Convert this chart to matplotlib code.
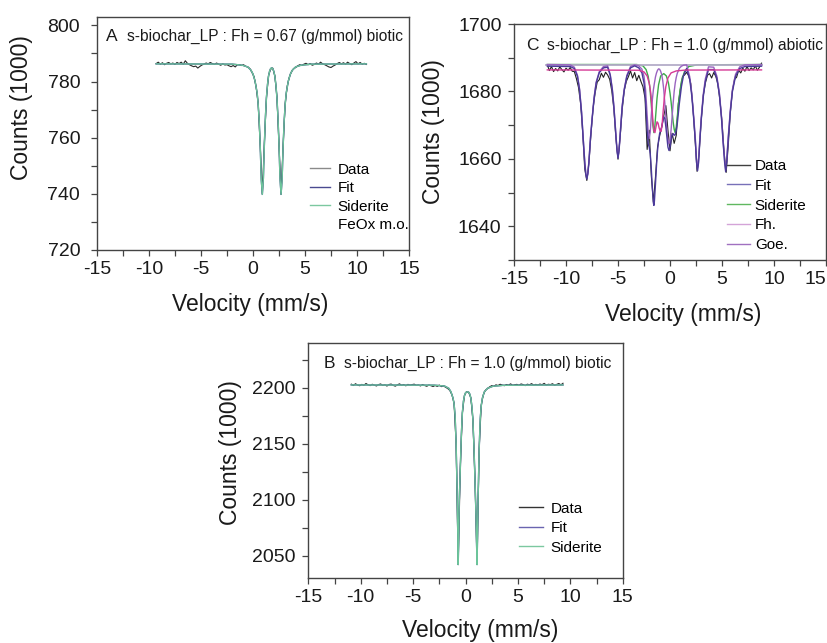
import numpy as np
import matplotlib.pyplot as plt
from matplotlib.lines import Line2D
from matplotlib.ticker import MultipleLocator

plt.rcParams['font.family'] = ['Liberation Sans', 'DejaVu Sans']
plt.rcParams['axes.unicode_minus'] = False

# ---- panel A : Fh = 0.67 biotic ----
# velocity channels, 0.2 mm/s apart
vel_a = np.round(np.arange(-9.3, 10.95, 0.2), 1)
counts_a = [
    786.4, 786.9, 786.2, 786.7, 786.0, 786.5, 786.8, 786.3, 786.6, 786.1,
    786.8, 786.4, 786.9, 786.2, 787.4, 786.5, 786.0, 785.6, 785.3, 785.5,
    784.8, 785.4, 785.9, 786.2, 786.6, 786.3, 786.8, 786.4, 786.1, 786.6,
    786.2, 785.8, 786.3, 785.9, 786.0, 785.6, 785.3, 785.7, 785.2, 786.0,
    786.0, 785.7, 786.0, 785.4, 785.2, 784.6, 783.3, 781.8, 778.2, 772.3,
    757.2, 740.0, 758.3, 774.3, 782.2, 784.4, 784.8, 782.1, 774.8, 757.8,
    739.9, 757.3, 772.2, 778.5, 781.6, 783.5, 784.6, 785.0, 785.6, 786.0,
    785.7, 786.2, 786.5, 786.0, 786.4, 785.8, 786.1, 786.6, 786.2, 786.9,
    786.3, 786.0, 785.6, 785.2, 785.0, 785.5, 785.9, 786.4, 786.8, 786.3,
    786.7, 786.2, 786.9, 786.4, 786.0, 786.6, 787.1, 786.3, 786.8, 786.2,
    786.5, 786.1]
vel_fit_a = [-9.3, -2.0, -1.0, -0.5, -0.2, 0.0, 0.2, 0.4,
             0.5, 0.6, 0.7, 0.8, 0.9, 1.0, 1.1, 1.2, 1.3, 1.4,
             1.5, 1.6, 1.7, 1.8, 1.9, 2.0, 2.1, 2.2, 2.3, 2.4,
             2.5, 2.6, 2.7, 2.8, 2.9, 3.0, 3.1, 3.2,
             3.4, 3.6, 3.8, 4.1, 4.6, 5.6, 10.9]
fit_a = [786.3, 786.2, 785.8, 785.2, 784.1, 782.7, 780.2, 776.0,
         772.0, 766.0, 757.0, 745.0, 739.8, 745.5, 758.0, 767.5, 774.5, 779.0,
         782.0, 783.7, 784.6, 784.9, 784.6, 783.7, 782.0, 779.0, 774.5, 767.5,
         758.0, 745.5, 739.8, 745.0, 757.0, 766.0, 772.0, 776.0,
         780.2, 782.7, 784.1, 785.2, 785.8, 786.2, 786.3]
sid_a = fit_a  # siderite is the only component, so it equals the fit

# ---- panel B : Fh = 1.0 biotic ----
vel_b = np.round(np.arange(-10.9, 9.35, 0.2), 1)
counts_b = [
    2203.2, 2202.0, 2203.6, 2202.4, 2201.8, 2203.0, 2202.2, 2203.8, 2202.6, 2201.9,
    2203.1, 2202.3, 2201.6, 2202.8, 2203.4, 2202.0, 2202.7, 2201.5, 2202.9, 2203.3,
    2202.1, 2201.4, 2202.6, 2203.5, 2202.2, 2202.9, 2201.7, 2203.0, 2202.4, 2202.8,
    2203.2, 2202.1, 2202.5, 2201.6, 2202.9, 2202.0, 2201.3, 2202.4, 2201.8, 2201.1,
    2202.0, 2201.2, 2202.4, 2201.0, 2201.6, 2200.4, 2199.3, 2197.6, 2193.8, 2186.5,
    2150.5, 2042.5, 2128.5, 2177.5, 2193.2, 2196.5, 2195.8, 2191.2, 2171.5, 2118.5,
    2042.3, 2145.5, 2184.5, 2193.8, 2197.8, 2199.2, 2200.8, 2201.9, 2201.2, 2202.6,
    2202.0, 2203.1, 2202.4, 2201.8, 2202.9, 2202.3, 2203.5, 2202.1, 2202.7, 2203.0,
    2202.2, 2203.4, 2202.8, 2201.9, 2203.2, 2202.6, 2203.7, 2202.3, 2203.0, 2202.5,
    2203.3, 2202.7, 2203.9, 2202.4, 2203.1, 2202.8, 2203.6, 2202.2, 2203.0, 2203.8,
    2202.6, 2204.0]
vel_fit_b = [-10.9, -3.0, -2.0, -1.6, -1.4, -1.2, -1.1, -1.0, -0.9, -0.8,
             -0.75, -0.7, -0.65, -0.6, -0.5, -0.4, -0.3, -0.2, -0.1, 0.0,
             0.1, 0.2, 0.3, 0.4, 0.5, 0.6, 0.7, 0.8, 0.9, 1.0,
             1.05, 1.1, 1.15, 1.2, 1.3, 1.4, 1.5, 1.6, 1.8, 2.1,
             2.6, 3.6, 9.3]
fit_b = [2202.5, 2202.3, 2201.5, 2199.5, 2196.5, 2191.0, 2186.0, 2176.0, 2150.0, 2105.0,
         2075.0, 2042.0, 2070.0, 2098.0, 2128.0, 2158.0, 2178.0, 2188.0, 2193.0, 2195.5,
         2196.2, 2196.3, 2196.0, 2194.5, 2191.0, 2184.0, 2172.0, 2148.0, 2118.0, 2085.0,
         2062.0, 2042.0, 2072.0, 2102.0, 2145.0, 2172.0, 2184.0, 2190.5, 2196.5, 2199.5,
         2201.3, 2202.2, 2202.5]
sid_b = fit_b

# ---- panel C : Fh = 1.0 abiotic ----
vel_c = np.round(np.arange(-11.8, 8.85, 0.2), 1)
counts_c = [
    1687.9, 1686.2, 1687.4, 1685.9, 1686.8, 1686.1, 1687.3, 1686.5, 1685.8, 1686.9,
    1686.3, 1687.1, 1686.0, 1685.9, 1683.8, 1681.2, 1676.5, 1668.0, 1657.0, 1653.6,
    1658.8, 1667.4, 1675.0, 1679.6, 1682.8, 1683.5, 1685.4, 1684.2, 1685.7, 1684.9,
    1683.6, 1680.2, 1674.8, 1666.0, 1659.9, 1666.3, 1674.6, 1680.3, 1683.0, 1684.4,
    1686.1, 1684.0, 1685.6, 1683.2, 1684.8, 1683.0, 1681.4, 1678.0, 1662.8, 1668.5,
    1655.0, 1647.2, 1654.5, 1663.5, 1666.8, 1669.4, 1672.8, 1675.8, 1668.5, 1662.4,
    1667.6, 1664.6, 1667.0, 1676.5, 1680.8, 1684.4, 1684.9, 1685.7, 1684.6, 1682.3,
    1675.4, 1666.2, 1656.3, 1661.8, 1671.4, 1678.9, 1682.5, 1684.8, 1685.3, 1684.0,
    1685.6, 1684.5, 1682.2, 1677.4, 1671.0, 1662.0, 1656.0, 1664.0, 1673.8, 1680.2,
    1683.6, 1684.2, 1686.3, 1685.5, 1686.9, 1686.0, 1687.4, 1686.2, 1687.0, 1686.4,
    1687.6, 1686.3, 1687.2, 1688.4]
vel_fit_c = [
    -11.8, -9.6, -9.2, -8.9, -8.7, -8.5, -8.35, -8.2, -8.1, -8.0,
    -7.9, -7.8, -7.65, -7.5, -7.3, -7.1, -6.8, -6.4, -6.0, -5.75,
    -5.55, -5.4, -5.25, -5.1, -5.0, -4.9, -4.75, -4.6, -4.4, -4.15,
    -3.8, -3.4, -3.0, -2.7, -2.5, -2.35, -2.2, -2.1, -2.0, -1.9,
    -1.8, -1.7, -1.6, -1.55, -1.5, -1.4, -1.3, -1.2, -1.1, -1.0,
    -0.9, -0.8, -0.7, -0.6, -0.5, -0.4, -0.3, -0.2, -0.1, 0.0,
    0.1, 0.2, 0.3, 0.4, 0.5, 0.6, 0.7, 0.9, 1.1, 1.3,
    1.6, 1.9, 2.1, 2.3, 2.45, 2.55, 2.65, 2.75, 2.85, 3.0,
    3.2, 3.4, 3.7, 4.2, 4.5, 4.75, 4.95, 5.1, 5.25, 5.35,
    5.45, 5.6, 5.8, 6.0, 6.3, 6.7, 7.2, 8.8]
fit_c = [
    1687.5, 1687.4, 1686.8, 1684.5, 1680.5, 1673.5, 1666.0, 1659.0, 1655.5, 1654.0,
    1655.5, 1659.0, 1666.0, 1671.5, 1678.0, 1682.5, 1685.6, 1687.0, 1687.2, 1684.8,
    1680.5, 1675.5, 1669.0, 1662.5, 1660.2, 1662.5, 1669.0, 1675.5, 1680.5, 1684.5,
    1687.0, 1687.6, 1687.0, 1685.5, 1682.5, 1677.0, 1668.5, 1664.5, 1663.5, 1661.5,
    1657.0, 1651.5, 1647.0, 1646.2, 1647.5, 1652.5, 1658.0, 1662.5, 1665.5, 1667.5,
    1668.5, 1669.5, 1671.0, 1672.5, 1672.0, 1669.5, 1666.5, 1663.5, 1662.5, 1663.5,
    1665.5, 1667.0, 1667.5, 1667.0, 1667.2, 1668.5, 1670.5, 1676.5, 1681.5, 1684.8,
    1686.8, 1683.5, 1678.5, 1671.0, 1664.5, 1659.0, 1656.5, 1659.0, 1664.5, 1671.5,
    1678.5, 1683.0, 1686.5, 1686.5, 1684.0, 1679.0, 1672.0, 1665.0, 1659.0, 1656.2,
    1659.0, 1666.0, 1674.0, 1680.0, 1684.5, 1686.8, 1687.4, 1687.5]
goe_c = [
    1688.0, 1687.9, 1687.2, 1684.8, 1680.8, 1673.8, 1666.3, 1659.3, 1655.8, 1654.3,
    1655.8, 1659.3, 1666.3, 1671.8, 1678.3, 1682.8, 1685.9, 1687.4, 1687.6, 1685.1,
    1680.8, 1675.8, 1669.3, 1662.8, 1660.5, 1662.8, 1669.3, 1675.8, 1680.8, 1684.8,
    1687.4, 1687.9, 1687.6, 1686.6, 1684.5, 1680.5, 1673.0, 1668.0, 1666.0, 1668.0,
    1673.0, 1677.5, 1680.5, 1681.5, 1682.5, 1684.3, 1685.5, 1686.3, 1686.7, 1686.6,
    1686.0, 1685.0, 1683.2, 1680.5, 1676.5, 1672.5, 1668.5, 1665.5, 1664.5, 1665.5,
    1668.5, 1672.5, 1676.5, 1680.0, 1682.5, 1684.2, 1685.4, 1686.9, 1687.5, 1687.8,
    1687.9, 1684.3, 1679.3, 1671.8, 1665.3, 1659.8, 1657.3, 1659.8, 1665.3, 1672.3,
    1679.3, 1683.8, 1687.3, 1687.2, 1684.6, 1679.6, 1672.6, 1665.6, 1659.6, 1656.8,
    1659.6, 1666.6, 1674.6, 1680.6, 1685.1, 1687.3, 1687.9, 1688.0]
vel_sid_c = [-11.8, -3.2, -2.6, -2.3, -2.1, -1.95, -1.85, -1.75, -1.65, -1.55,
             -1.45, -1.35, -1.25, -1.1, -0.9, -0.6, -0.35, -0.15, 0.0, 0.1,
             0.2, 0.3, 0.4, 0.49, 0.6, 0.7, 0.8, 0.95, 1.1, 1.4,
             1.8, 2.6, 8.8]
sid_c = [1688.0, 1688.0, 1687.6, 1686.5, 1684.5, 1681.5, 1678.0, 1674.0, 1670.0, 1667.8,
         1670.0, 1674.0, 1678.0, 1682.0, 1684.6, 1685.3, 1684.6, 1682.5, 1679.5, 1677.0,
         1674.0, 1671.0, 1668.8, 1667.8, 1669.5, 1672.5, 1676.0, 1680.0, 1683.0, 1686.0,
         1687.4, 1687.9, 1688.0]
vel_fh_c = [-11.8, -3.0, -2.5, -2.2, -2.0, -1.85, -1.75, -1.65, -1.55, -1.45,
            -1.35, -1.25, -1.15, -1.05, -0.95, -0.85, -0.75, -0.65, -0.55, -0.4,
            -0.2, 0.1, 0.6, 1.5, 8.8]
fh_c = [1686.4, 1686.3, 1685.8, 1684.6, 1682.5, 1679.5, 1676.0, 1671.5, 1668.3, 1667.8,
        1669.5, 1671.0, 1670.6, 1669.2, 1668.3, 1668.2, 1670.5, 1674.5, 1678.0, 1681.5,
        1684.0, 1685.5, 1686.1, 1686.35, 1686.4]
vel_base_c = [-11.9, 8.8]
base_c = [1688.0, 1688.0]

vel_ticks = [-15, -10, -5, 0, 5, 10, 15]


def setup(ax, ylim, ymaj, ymin, ypad, xlab_pos, ylab_pos):
    ax.set_xlim(-15, 15)
    ax.set_ylim(*ylim)
    ax.set_xticks(vel_ticks)
    ax.xaxis.set_minor_locator(MultipleLocator(2.5))
    ax.yaxis.set_major_locator(MultipleLocator(ymaj))
    ax.yaxis.set_minor_locator(MultipleLocator(ymin))
    ax.tick_params(which='both', direction='out', length=4, width=0.9,
                   color='#444444', labelcolor='#1a1a1a', labelsize=14)
    ax.tick_params(axis='y', which='major', pad=ypad)
    ax.tick_params(axis='x', which='major', pad=4)
    for s in ax.spines.values():
        s.set_color('#444444')
        s.set_linewidth(1.0)
    ax.set_xlabel('Velocity (mm/s)', fontsize=16.5, color='#1a1a1a')
    ax.set_ylabel('Counts (1000)', fontsize=16.5, color='#1a1a1a')
    ax.xaxis.set_label_coords(*xlab_pos)
    ax.yaxis.set_label_coords(*ylab_pos)


def title(ax, letter, text, x1, x2, y):
    ax.text(x1, y, letter, transform=ax.transAxes, fontsize=12.5, va='center', color='#1a1a1a')
    ax.text(x2, y, text, transform=ax.transAxes, fontsize=11.2, va='center', color='#1a1a1a')


fig = plt.figure(figsize=(8.28, 6.43), dpi=100)
axA = fig.add_axes([0.117, 0.6112, 0.377, 0.3624])
axC = fig.add_axes([0.6208, 0.5956, 0.3768, 0.367])
axB = fig.add_axes([0.3724, 0.1011, 0.3797, 0.3655])

# A
axA.plot(vel_a, counts_a, color='#2a2a2a', lw=0.8)
axA.plot(vel_fit_a, fit_a, color='#3b3b8f', lw=1.0)
axA.plot(vel_fit_a, sid_a, color='#6cc49a', lw=1.0)
setup(axA, (720, 803), 20, 10, 8, (0.49, -0.185), (-0.205, 0.61))
title(axA, 'A', 's-biochar_LP : Fh = 0.67 (g/mmol) biotic', 0.029, 0.095, 0.918)
hA = [Line2D([], [], color='#8a8a8a', lw=1.0),
      Line2D([], [], color='#4a4a90', lw=1.0),
      Line2D([], [], color='#7cc8a0', lw=1.0),
      Line2D([], [], color='none', lw=1.0)]
axA.legend(hA, ['Data', 'Fit', 'Siderite', 'FeOx m.o.'], loc='upper left',
           bbox_to_anchor=(0.683, 0.375), frameon=False, fontsize=11,
           handlelength=1.3, handletextpad=0.5, labelspacing=0.3,
           borderpad=0, borderaxespad=0)

# C
axC.plot(vel_c, counts_c, color='#222222', lw=0.8)
axC.plot(vel_sid_c, sid_c, color='#3daa4a', lw=1.0)
axC.plot(vel_base_c, base_c, color='#b4acc8', lw=1.3)
axC.plot(vel_fit_c, goe_c, color='#9a64c0', lw=1.0)
axC.plot(vel_fit_c, fit_c, color='#4b3a9a', lw=1.0)
axC.plot(vel_fh_c, fh_c, color='#d63a96', lw=1.0)
setup(axC, (1630, 1700), 20, 10, 5, (0.543, -0.182), (-0.221, 0.544))
title(axC, 'C', 's-biochar_LP : Fh = 1.0 (g/mmol) abiotic', 0.04, 0.105, 0.911)
hC = [Line2D([], [], color='#404040', lw=1.0),
      Line2D([], [], color='#7870b8', lw=1.0),
      Line2D([], [], color='#60b860', lw=1.0),
      Line2D([], [], color='#d4a4d8', lw=1.0),
      Line2D([], [], color='#a070c0', lw=1.0)]
axC.legend(hC, ['Data', 'Fit', 'Siderite', 'Fh.', 'Goe.'], loc='upper left',
           bbox_to_anchor=(0.682, 0.428), frameon=False, fontsize=11,
           handlelength=1.5, handletextpad=0.33, labelspacing=0.38,
           borderpad=0, borderaxespad=0)
# the "15" label of panel C is right-aligned on its tick so it stays inside the figure
axC.xaxis.get_major_ticks()[-1].label1.set_horizontalalignment('right')

# B
axB.plot(vel_b, counts_b, color='#2a2a2a', lw=0.8)
axB.plot(vel_fit_b, fit_b, color='#3b3b8f', lw=1.0)
axB.plot(vel_fit_b, sid_b, color='#6cc49a', lw=1.0)
setup(axB, (2030, 2240), 50, 25, 5, (0.548, -0.174), (-0.21, 0.534))
title(axB, 'B', 's-biochar_LP : Fh = 1.0 (g/mmol) biotic', 0.049, 0.112, 0.914)
hB = [Line2D([], [], color='#333333', lw=1.0),
      Line2D([], [], color='#6a64b0', lw=1.0),
      Line2D([], [], color='#7cc8a0', lw=1.0)]
axB.legend(hB, ['Data', 'Fit', 'Siderite'], loc='upper left',
           bbox_to_anchor=(0.669, 0.325), frameon=False, fontsize=11,
           handlelength=1.6, handletextpad=0.5, labelspacing=0.36,
           borderpad=0, borderaxespad=0)

fig.savefig('out.png', dpi=100)
